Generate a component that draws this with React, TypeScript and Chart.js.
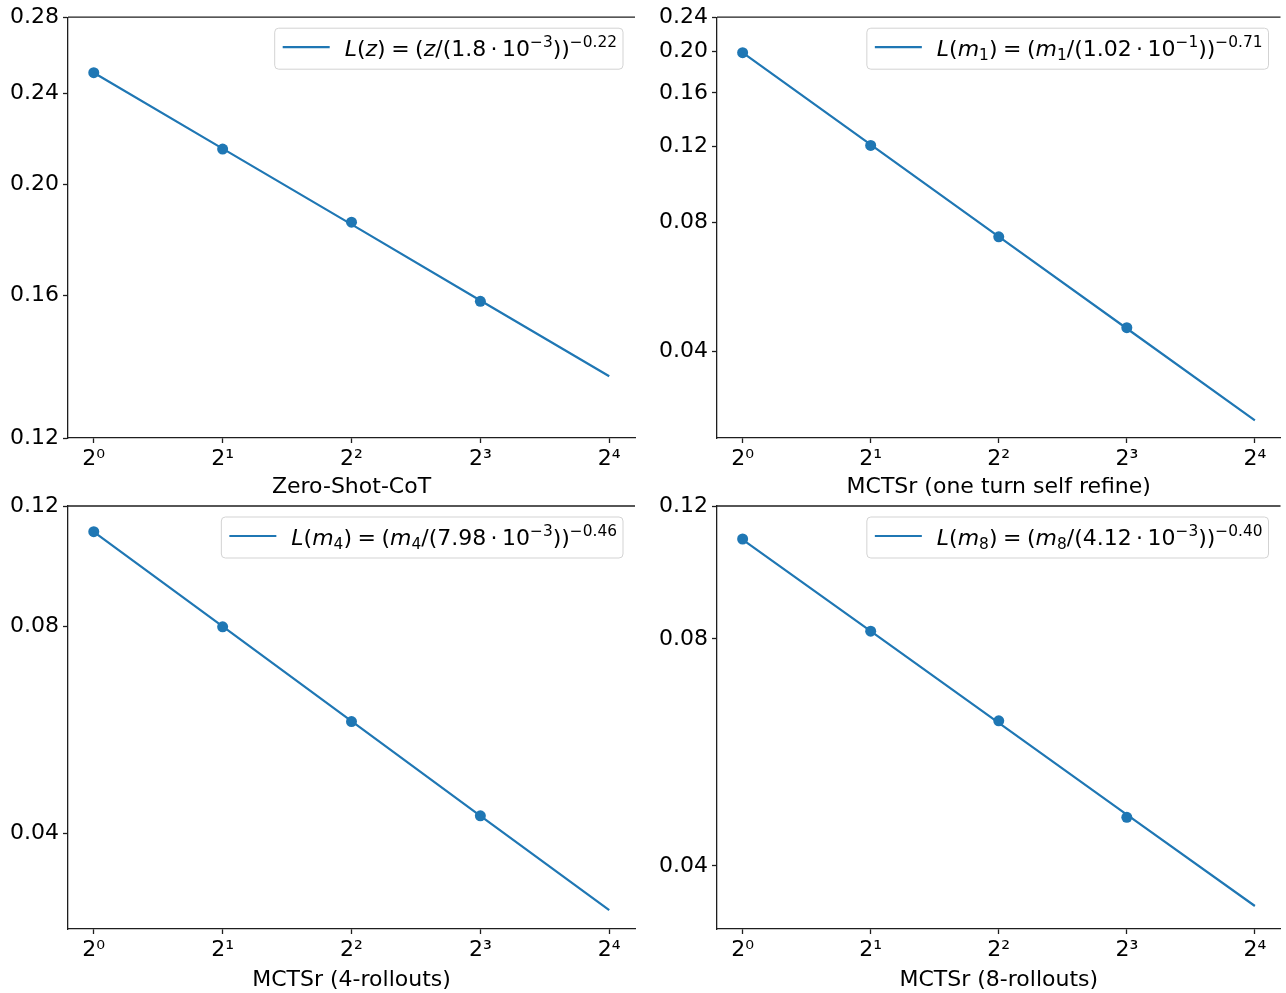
import React, { useEffect, useRef } from 'react';
import { Chart, registerables } from 'chart.js';

Chart.register(...registerables);

// ---------------- data ----------------
const xValues = [1, 2, 4, 8, 16];
const xPointValues = [1, 2, 4, 8];
const xTickLabels = ['2⁰', '2¹', '2²', '2³', '2⁴'];

const zeroShotPoints = [0.2504, 0.2147, 0.1853, 0.158];
const zeroShotFit = [0.2504, 0.2149, 0.1845, 0.1583, 0.1359];
const zeroShotYTicks = [0.12, 0.16, 0.2, 0.24, 0.28];

const oneTurnPoints = [0.1985, 0.1208, 0.074, 0.0455];
const oneTurnFit = [0.1985, 0.1213, 0.0741, 0.0453, 0.0277];
const oneTurnYTicks = [0.04, 0.08, 0.12, 0.16, 0.2, 0.24];

const rollout4Points = [0.1101, 0.08, 0.0582, 0.0424];
const rollout4Fit = [0.11, 0.0801, 0.0583, 0.0424, 0.0309];
const rollout4YTicks = [0.04, 0.08, 0.12];

const rollout8Points = [0.1085, 0.0819, 0.0623, 0.0464];
const rollout8Fit = [0.1083, 0.0819, 0.0619, 0.0468, 0.0354];
const rollout8YTicks = [0.04, 0.08, 0.12];

const panelTitles = [
  'Zero-Shot-CoT',
  'MCTSr (one turn self refine)',
  'MCTSr (4-rollouts)',
  'MCTSr (8-rollouts)',
];

type Seg = { t: string; s?: 'i' | 'sup' | 'sub' };

const EQ = ')\u2005=\u2005(';
const DOT = '\u2009·\u2009';

const legendZero: Seg[] = [
  { t: 'L', s: 'i' }, { t: '(' }, { t: 'z', s: 'i' }, { t: EQ },
  { t: 'z', s: 'i' }, { t: `/(1.8${DOT}10` }, { t: '−3', s: 'sup' }, { t: '))' },
  { t: '−0.22', s: 'sup' },
];
const legendOne: Seg[] = [
  { t: 'L', s: 'i' }, { t: '(' }, { t: 'm', s: 'i' }, { t: '1', s: 'sub' }, { t: EQ },
  { t: 'm', s: 'i' }, { t: '1', s: 'sub' }, { t: `/(1.02${DOT}10` }, { t: '−1', s: 'sup' }, { t: '))' },
  { t: '−0.71', s: 'sup' },
];
const legendFour: Seg[] = [
  { t: 'L', s: 'i' }, { t: '(' }, { t: 'm', s: 'i' }, { t: '4', s: 'sub' }, { t: EQ },
  { t: 'm', s: 'i' }, { t: '4', s: 'sub' }, { t: `/(7.98${DOT}10` }, { t: '−3', s: 'sup' }, { t: '))' },
  { t: '−0.46', s: 'sup' },
];
const legendEight: Seg[] = [
  { t: 'L', s: 'i' }, { t: '(' }, { t: 'm', s: 'i' }, { t: '8', s: 'sub' }, { t: EQ },
  { t: 'm', s: 'i' }, { t: '8', s: 'sub' }, { t: `/(4.12${DOT}10` }, { t: '−3', s: 'sup' }, { t: '))' },
  { t: '−0.40', s: 'sup' },
];

// ---------------- styling ----------------
const FONT = '"DejaVu Sans", Verdana, sans-serif';
const BLUE = '#1f77b4';
const AXIS = '#1e1e1e';
const BASE = 22;
const X_MIN = Math.pow(2, -0.2);
const X_MAX = Math.pow(2, 4.2);

type PanelSpec = {
  left: number; top: number; width: number; height: number;
  pad: { left: number; top: number; right: number; bottom: number };
  yWidth: number; xHeight: number;
  title: string; fit: number[]; points: number[]; yTicks: number[];
  yMin: number; yMax: number; legend: Seg[];
};

const panels: PanelSpec[] = [
  {
    left: 0, top: 0, width: 660, height: 500,
    pad: { left: 0, top: 16, right: 25, bottom: 0 }, yWidth: 68, xHeight: 62,
    title: panelTitles[0], fit: zeroShotFit, points: zeroShotPoints, yTicks: zeroShotYTicks,
    yMin: 0.12, yMax: 0.28, legend: legendZero,
  },
  {
    left: 643, top: 0, width: 643, height: 500,
    pad: { left: 0, top: 16, right: 1, bottom: 0 }, yWidth: 74, xHeight: 62,
    title: panelTitles[1], fit: oneTurnFit, points: oneTurnPoints, yTicks: oneTurnYTicks,
    yMin: 0.0252, yMax: 0.24, legend: legendOne,
  },
  {
    left: 0, top: 480, width: 660, height: 513,
    pad: { left: 0, top: 26, right: 25, bottom: 0 }, yWidth: 68, xHeight: 64,
    title: panelTitles[2], fit: rollout4Fit, points: rollout4Points, yTicks: rollout4YTicks,
    yMin: 0.029, yMax: 0.12, legend: legendFour,
  },
  {
    left: 643, top: 480, width: 643, height: 513,
    pad: { left: 0, top: 26, right: 1, bottom: 0 }, yWidth: 74, xHeight: 64,
    title: panelTitles[3], fit: rollout8Fit, points: rollout8Points, yTicks: rollout8YTicks,
    yMin: 0.0334, yMax: 0.12, legend: legendEight,
  },
];

function segFont(s?: string) {
  const size = s === 'sup' || s === 'sub' ? BASE * 0.7 : BASE;
  return `${s === 'i' ? 'italic ' : ''}${size}px ${FONT}`;
}

function makePlugin(segs: Seg[]) {
  return {
    id: 'mathLegendAndSpine',
    afterDraw(chart: any) {
      const { ctx, chartArea: a } = chart;
      ctx.save();
      // top spine
      ctx.strokeStyle = AXIS;
      ctx.lineWidth = 1.3;
      ctx.beginPath();
      ctx.moveTo(a.left, a.top);
      ctx.lineTo(a.right, a.top);
      ctx.stroke();

      // legend
      let w = 0;
      for (const sg of segs) {
        ctx.font = segFont(sg.s);
        w += ctx.measureText(sg.t).width;
      }
      const right = a.right - 12;
      const top = a.top + 11;
      const h = 41;
      const left = right - 6 - w - 15 - 47 - 8;
      ctx.beginPath();
      if (ctx.roundRect) ctx.roundRect(left, top, right - left, h, 4);
      else ctx.rect(left, top, right - left, h);
      ctx.fillStyle = 'rgba(255,255,255,0.85)';
      ctx.fill();
      ctx.strokeStyle = '#d3d3d3';
      ctx.lineWidth = 1;
      ctx.stroke();

      const ly = top + 19;
      ctx.strokeStyle = BLUE;
      ctx.lineWidth = 2.2;
      ctx.beginPath();
      ctx.moveTo(left + 8, ly);
      ctx.lineTo(left + 55, ly);
      ctx.stroke();

      let x = left + 70;
      const by = top + 28;
      ctx.fillStyle = '#000';
      ctx.textBaseline = 'alphabetic';
      ctx.textAlign = 'left';
      for (const sg of segs) {
        ctx.font = segFont(sg.s);
        let dy = 0;
        if (sg.s === 'sup') dy = -9;
        if (sg.s === 'sub') dy = 4;
        ctx.fillText(sg.t, x, by + dy);
        x += ctx.measureText(sg.t).width;
      }
      ctx.restore();
    },
  };
}

function Panel({ spec }: { spec: PanelSpec }) {
  const ref = useRef<HTMLCanvasElement>(null);
  useEffect(() => {
    const canvas = ref.current;
    if (!canvas) return;
    const tickFont = { family: FONT, size: BASE };
    const chart = new Chart(canvas, {
      type: 'line',
      data: {
        datasets: [
          {
            label: 'fit',
            data: xValues.map((x, i) => ({ x, y: spec.fit[i] })),
            borderColor: BLUE,
            backgroundColor: BLUE,
            borderWidth: 2.2,
            pointRadius: 0,
            tension: 0,
            fill: false,
          },
          {
            label: 'observed',
            data: xPointValues.map((x, i) => ({ x, y: spec.points[i] })),
            showLine: false,
            borderColor: BLUE,
            backgroundColor: BLUE,
            pointBackgroundColor: BLUE,
            pointBorderColor: BLUE,
            pointBorderWidth: 0,
            pointRadius: 5.5,
          },
        ],
      },
      options: {
        responsive: false,
        animation: false,
        events: [],
        layout: { padding: spec.pad },
        plugins: { legend: { display: false }, tooltip: { enabled: false } },
        scales: {
          x: {
            type: 'logarithmic',
            position: 'bottom',
            min: X_MIN,
            max: X_MAX,
            afterBuildTicks: (s: any) => {
              s.ticks = xValues.map((v) => ({ value: v }));
            },
            afterFit: (s: any) => {
              s.height = spec.xHeight;
            },
            ticks: {
              autoSkip: false,
              maxRotation: 0,
              minRotation: 0,
              padding: 3,
              color: '#000',
              font: tickFont,
              callback: (v: any) => {
                const idx = xValues.indexOf(Number(v));
                return idx >= 0 ? xTickLabels[idx] : '';
              },
            },
            grid: {
              display: true,
              drawOnChartArea: false,
              drawTicks: true,
              tickLength: 5,
              tickColor: AXIS,
              tickWidth: 1.3,
              color: AXIS,
            },
            border: { display: true, color: AXIS, width: 1.3 },
            title: {
              display: true,
              text: spec.title,
              color: '#000',
              font: { family: FONT, size: BASE },
              padding: 0,
            },
          },
          y: {
            type: 'logarithmic',
            position: 'left',
            min: spec.yMin,
            max: spec.yMax,
            afterBuildTicks: (s: any) => {
              s.ticks = spec.yTicks.map((v) => ({ value: v }));
            },
            afterFit: (s: any) => {
              s.width = spec.yWidth;
            },
            ticks: {
              autoSkip: false,
              padding: 4,
              color: '#000',
              font: tickFont,
              callback: (v: any) => Number(v).toFixed(2),
            },
            grid: {
              display: true,
              drawOnChartArea: false,
              drawTicks: true,
              tickLength: 5,
              tickColor: AXIS,
              tickWidth: 1.3,
              color: AXIS,
            },
            border: { display: true, color: AXIS, width: 1.3 },
          },
        },
      } as any,
      plugins: [makePlugin(spec.legend)],
    });
    return () => chart.destroy();
  }, [spec]);
  return (
    <canvas
      ref={ref}
      width={spec.width}
      height={spec.height}
      style={{ position: 'absolute', left: spec.left, top: spec.top, display: 'block' }}
    />
  );
}

export default function App() {
  return (
    <div
      style={{
        position: 'absolute',
        left: 0,
        top: 0,
        width: 1286,
        height: 993,
        overflow: 'hidden',
        background: '#fff',
      }}
    >
      {panels.map((p, i) => (
        <Panel key={i} spec={p} />
      ))}
    </div>
  );
}
